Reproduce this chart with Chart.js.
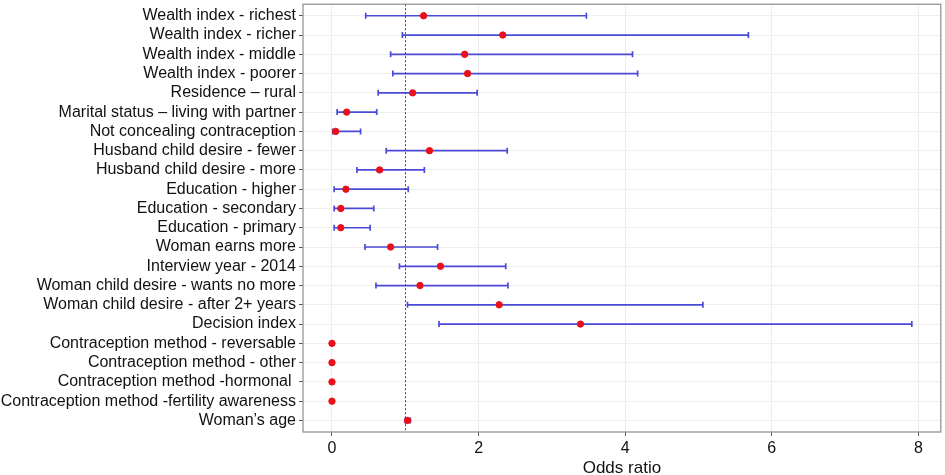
<!DOCTYPE html>
<html><head><meta charset="utf-8">
<script src="https://cdn.jsdelivr.net/npm/chart.js@4.4.1/dist/chart.umd.min.js"></script>
<style>html,body{margin:0;padding:0;background:#fff}#wrap{width:945px;height:475px}</style>
</head><body><div id="wrap"><canvas id="c" width="945" height="475"></canvas></div>
<script>
const categories = [
  "Wealth index - richest",
  "Wealth index - richer",
  "Wealth index - middle",
  "Wealth index - poorer",
  "Residence \u2013 rural",
  "Marital status \u2013 living with partner",
  "Not concealing contraception",
  "Husband child desire - fewer",
  "Husband child desire - more",
  "Education - higher",
  "Education - secondary",
  "Education - primary",
  "Woman earns more",
  "Interview year - 2014",
  "Woman child desire - wants no more",
  "Woman child desire - after 2+ years",
  "Decision index",
  "Contraception method - reversable",
  "Contraception method - other",
  "Contraception method -hormonal ",
  "Contraception method -fertility awareness",
  "Woman\u2019s age"
];
const oddsRatio = [1.25, 2.33, 1.81, 1.85, 1.10, 0.20, 0.05, 1.33, 0.65, 0.19, 0.12, 0.12, 0.80, 1.48, 1.20, 2.28, 3.39, 0, 0, 0, 0, 1.03];
const ciLow =     [0.46, 0.96, 0.80, 0.83, 0.63, 0.07, 0.01, 0.74, 0.34, 0.03, 0.03, 0.03, 0.45, 0.92, 0.60, 1.03, 1.46, null, null, null, null, 1.00];
const ciHigh =    [3.47, 5.68, 4.10, 4.17, 1.98, 0.61, 0.39, 2.39, 1.26, 1.04, 0.57, 0.52, 1.44, 2.37, 2.40, 5.06, 7.91, null, null, null, null, 1.07];
const xTicks = [0, 2, 4, 6, 8];
const refValue = 1;

const points = categories.map((c, i) => ({x: oddsRatio[i], y: i + 1}));

const errorBars = {
  id: 'errorBars',
  beforeDatasetsDraw(chart) {
    const {ctx, scales: {x, y}, chartArea: a} = chart;
    ctx.save();
    ctx.strokeStyle = '#444';
    ctx.lineWidth = 1;
    ctx.setLineDash([2, 2]);
    const rx = Math.round(x.getPixelForValue(refValue)) + 0.5;
    ctx.beginPath(); ctx.moveTo(rx, a.top); ctx.lineTo(rx, a.bottom); ctx.stroke();
    ctx.setLineDash([]);
    ctx.strokeStyle = 'rgba(30,30,205,0.8)';
    ctx.lineWidth = 1.7;
    categories.forEach((c, i) => {
      if (ciLow[i] == null || ciHigh[i] == null) return;
      const yy = y.getPixelForValue(i + 1);
      const x1 = x.getPixelForValue(ciLow[i]);
      const x2 = x.getPixelForValue(ciHigh[i]);
      ctx.beginPath();
      ctx.moveTo(x1, yy); ctx.lineTo(x2, yy);
      ctx.moveTo(x1, yy - 3); ctx.lineTo(x1, yy + 3);
      ctx.moveTo(x2, yy - 3); ctx.lineTo(x2, yy + 3);
      ctx.stroke();
    });
    ctx.restore();
  },
  afterDraw(chart) {
    const {ctx, chartArea: a} = chart;
    ctx.save();
    ctx.strokeStyle = '#8c8c8c';
    ctx.lineWidth = 1.2;
    ctx.strokeRect(a.left, a.top, a.right - a.left, a.bottom - a.top);
    ctx.restore();
  }
};

new Chart(document.getElementById('c'), {
  type: 'scatter',
  data: {
    datasets: [{
      data: points,
      backgroundColor: '#e8101a',
      borderColor: '#e8101a',
      pointRadius: 3.2,
      pointHoverRadius: 3.2
    }]
  },
  options: {
    responsive: false,
    animation: false,
    devicePixelRatio: 1,
    layout: {padding: {top: 1, right: 1, left: 0, bottom: 0}},
    plugins: {legend: {display: false}, tooltip: {enabled: false}},
    scales: {
      x: {
        type: 'linear',
        min: -0.3955,
        max: 8.3055,
        afterBuildTicks(scale) { scale.ticks = xTicks.map(v => ({value: v})); },
        afterFit(scale) { scale.height = 43; scale.paddingLeft = 0; scale.paddingRight = 0; },
        ticks: {color: '#111', font: {family: 'Liberation Sans, Arial', size: 16}, padding: 3, maxRotation: 0},
        grid: {color: '#ececec', lineWidth: 1, tickColor: '#555', tickLength: 4},
        border: {display: false},
        title: {display: true, text: 'Odds ratio', color: '#111', font: {family: 'Liberation Sans, Arial', size: 17, lineHeight: 0.8}, padding: {top: 0, bottom: 0}}
      },
      y: {
        type: 'linear',
        reverse: true,
        min: 0.4,
        max: 22.6,
        afterBuildTicks(scale) { scale.ticks = categories.map((c, i) => ({value: i + 1})); },
        afterFit(scale) { scale.width = 303; scale.paddingTop = 0; scale.paddingBottom = 0; },
        ticks: {
          color: '#111',
          font: {family: 'Liberation Sans, Arial', size: 16},
          padding: 3,
          autoSkip: false,
          callback: (v) => categories[Math.round(v) - 1] || ''
        },
        grid: {color: '#efefef', lineWidth: 1, tickColor: '#555', tickLength: 4},
        border: {display: false}
      }
    }
  },
  plugins: [errorBars]
});
</script>
</body></html>
